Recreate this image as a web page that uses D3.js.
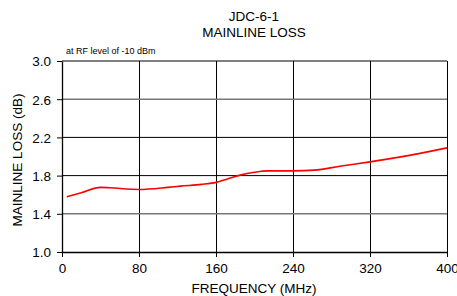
<!DOCTYPE html>
<html>
<head>
<meta charset="utf-8">
<script src="https://cdn.jsdelivr.net/npm/d3@7"></script>
<style>
  body { margin: 0; background: #fff; }
  svg { display: block; font-family: "Liberation Sans", Arial, sans-serif; }
</style>
</head>
<body>
<div id="chart"></div>
<script>
// Mainline loss vs frequency
const freqMHz = [5, 20, 40, 50, 80, 110, 123, 145, 160, 172, 185, 200, 213, 240, 262, 290, 320, 352, 400];
const lossDb = [1.578, 1.62, 1.677, 1.672, 1.655, 1.677, 1.69, 1.708, 1.729, 1.765, 1.805, 1.835, 1.85, 1.85, 1.857, 1.90, 1.944, 1.996, 2.09];
const xTicks = [0, 80, 160, 240, 320, 400];
const yTicks = [1.0, 1.4, 1.8, 2.2, 2.6, 3.0];

const width = 457, height = 296;
const margin = { top: 61, right: 10, bottom: 44, left: 62 };

const svg = d3.select('#chart')
    .append('svg')
    .attr('width', width)
    .attr('height', height);

const x = d3.scaleLinear().domain([0, 400]).range([margin.left, width - margin.right]);
const y = d3.scaleLinear().domain([1.0, 3.0]).range([height - margin.bottom, margin.top]);

// Grid
svg.append('g')
    .selectAll('line')
    .data(xTicks.slice(1))
    .join('line')
    .attr('x1', d => Math.round(x(d)) + 0.5)
    .attr('x2', d => Math.round(x(d)) + 0.5)
    .attr('y1', y(3.0))
    .attr('y2', y(1.0))
    .attr('stroke', '#000');

svg.append('g')
    .selectAll('line')
    .data(yTicks.slice(1))
    .join('line')
    .attr('x1', x(0))
    .attr('x2', x(400))
    .attr('y1', d => y(d))
    .attr('y2', d => y(d))
    .attr('stroke', d => (d === 1.4 || d === 2.6) ? '#777' : '#000')
    .attr('stroke-width', d => (d === 1.4 || d === 2.6) ? 1.6 : 1);

// Axes
const xAxis = svg.append('g')
    .attr('transform', `translate(0,${y(1.0)})`)
    .call(d3.axisBottom(x).tickValues(xTicks).tickSize(5).tickPadding(6).tickSizeOuter(0));
const yAxis = svg.append('g')
    .attr('transform', `translate(${x(0)},0)`)
    .call(d3.axisLeft(y).tickValues(yTicks).tickFormat(d3.format('.1f')).tickSize(5).tickPadding(6).tickSizeOuter(0));

[xAxis, yAxis].forEach(a => {
    a.select('.domain').attr('stroke', '#000').attr('stroke-width', 1.3);
    a.selectAll('.tick line').attr('stroke', '#000');
    a.selectAll('.tick text')
        .attr('fill', '#000')
        .attr('font-size', '13.5px')
        .attr('font-family', '"Liberation Sans", Arial, sans-serif');
});
yAxis.selectAll('.tick text').attr('dy', '0.36em');

// Curve
const line = d3.line()
    .x((d, i) => x(freqMHz[i]))
    .y(d => y(d))
    .curve(d3.curveMonotoneX);

svg.append('path')
    .datum(lossDb)
    .attr('fill', 'none')
    .attr('stroke', '#ff0000')
    .attr('stroke-width', 1.6)
    .attr('d', line);

// Titles
svg.append('text')
    .attr('x', 254)
    .attr('y', 21)
    .attr('text-anchor', 'middle')
    .attr('font-size', '13.5px')
    .text('JDC-6-1');

svg.append('text')
    .attr('x', 254)
    .attr('y', 37)
    .attr('text-anchor', 'middle')
    .attr('font-size', '13.5px')
    .text('MAINLINE LOSS');

svg.append('text')
    .attr('x', 66)
    .attr('y', 54)
    .attr('font-size', '9px')
    .text('at RF level of -10 dBm');

svg.append('text')
    .attr('x', 254)
    .attr('y', 293)
    .attr('text-anchor', 'middle')
    .attr('font-size', '13.5px')
    .text('FREQUENCY (MHz)');

svg.append('text')
    .attr('transform', 'translate(22,160) rotate(-90)')
    .attr('text-anchor', 'middle')
    .attr('font-size', '13.5px')
    .text('MAINLINE LOSS (dB)');
</script>
</body>
</html>
